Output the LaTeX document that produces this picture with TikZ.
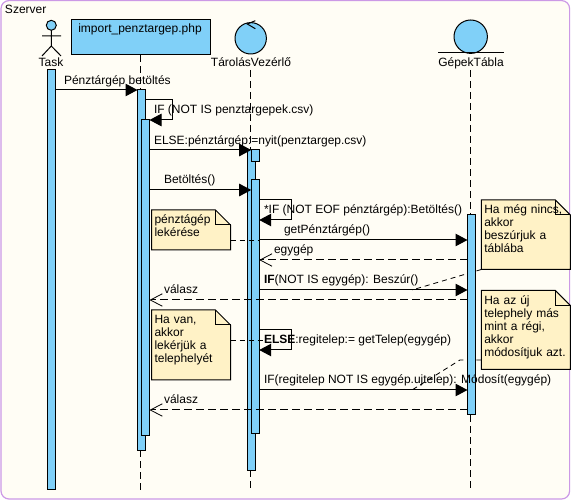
\documentclass[tikz,border=0pt]{standalone}
\usepackage{fontspec}
\setmainfont{Liberation Sans}
\usetikzlibrary{arrows.meta}
\definecolor{framecol}{HTML}{CC99E6}
\definecolor{bgcol}{HTML}{FFFDF5}
\definecolor{bluecol}{HTML}{80D0F8}
\definecolor{notecol}{HTML}{FFF2C6}
\pgfdeclarelayer{backlayer}
\pgfdeclarelayer{linklayer}
\pgfsetlayers{backlayer,linklayer,main}
\tikzset{
  lbl/.style={inner sep=0pt,outer sep=0pt,anchor=base west,font=\fontsize{12}{13}\selectfont},
  lblc/.style={lbl,anchor=base},
  bar/.style={draw=black,fill=bluecol,line width=1pt,inner sep=0pt,outer sep=0pt,minimum width=8pt},
  lifeline/.style={line width=1pt,dash pattern=on 7pt off 4pt},
  msg/.style={line width=1pt,-{Triangle[length=12pt,width=12.5pt]}},
  ret/.style={line width=1pt,dash pattern=on 8pt off 4pt,-{Straight Barb[length=12pt,width=12.5pt,line width=.8pt]}},
  notelink/.style={line width=.8pt,dash pattern=on 5pt off 4pt},
  notepoly/.style={draw=black,fill=notecol,line width=1pt},
  notetext/.style={inner xsep=3pt,inner ysep=0pt,outer sep=0pt,anchor=north west,align=left,font=\fontsize{12}{13}\selectfont},
}
% #1 name, #2 x centre, #3 top, #4 bottom
\newcommand{\actbar}[4]{\node[bar,minimum height={(#4-#3)*1pt}] (#1) at (#2,{(#3+#4)/2}) {};}
% #1 name, #2 x1, #3 y1, #4 x2, #5 y2, #6 text
\newcommand{\notebox}[6]{%
  \draw[notepoly] (#2,#3) -- ({#4-15},#3) -- (#4,{#3+15}) -- (#4,#5) -- (#2,#5) -- cycle;
  \draw[line width=1pt] ({#4-15},#3) -- ({#4-15},{#3+15}) -- (#4,{#3+15});
  \node[notetext,text width={(#4-#2-6)*1pt}] (#1) at (#2,#3) {\rule{0pt}{14pt}#6};}
\begin{document}
\begin{tikzpicture}[x=1pt,y=-1pt]
\useasboundingbox (0,0) rectangle (573,502);
\begin{pgfonlayer}{backlayer}
  \fill[white] (0,0) rectangle (573,502);
  \draw[draw=framecol,fill=bgcol,line width=1.2pt,rounded corners=8pt] (1,0.6) rectangle (569.6,499);
\end{pgfonlayer}
\node[lbl] (frametitle) at (5,14) {Szerver};

% lifeline heads
\node[draw=black,fill=bluecol,line width=1pt,minimum width=139pt,minimum height=35pt,inner sep=0pt,outer sep=0pt] (imp) at (140.5,37.5) {};
\node[draw=black,fill=bluecol,line width=1pt,circle,minimum size=31.4pt,inner sep=0pt,outer sep=0pt] (ctl) at (250.7,38.3) {};
\node[draw=black,fill=bluecol,line width=1pt,circle,minimum size=33.4pt,inner sep=0pt,outer sep=0pt] (tbl) at (470.7,36.7) {};
\node[draw=black,fill=bluecol,line width=1pt,circle,minimum size=10pt,inner sep=0pt,outer sep=0pt] (head) at (51.3,25.3) {};
\coordinate (legl) at (42,56);
\coordinate (legr) at (61,56);
\coordinate (hip) at (51.3,46);
\coordinate (arml) at (42,36);
\coordinate (armr) at (61,36);
\draw[line width=1pt] (head) -- (hip) (arml) -- (armr) (legl) -- (hip) -- (legr);
\coordinate (ctlA) at (255.3,20.7);
\coordinate (ctlB) at (247.3,24);
\coordinate (ctlC) at (255.3,28.7);
\draw[line width=1pt] (ctlA) -- (ctlB) -- (ctlC);
\coordinate (tblL) at (438,53);
\coordinate (tblR) at (504,53);
\draw[line width=1pt] (tblL) -- (tblR);

% activation bars
\actbar{aTask}{51.5}{70}{489}
\actbar{aImpA}{141.5}{90}{450}
\actbar{aImpB}{145.5}{120}{435}
\actbar{aCtlA}{251.2}{150}{470}
\actbar{aCtlS}{255.2}{150}{162}
\actbar{aCtlB}{255.2}{180}{433}
\actbar{aTbl}{471.5}{215}{415}

% lifeline ends
\coordinate (endImp) at (140.5,490);
\coordinate (endCtl) at (250.5,490);
\coordinate (endTbl) at (470.5,490);
\coordinate (startCtl) at (250.5,70);
\coordinate (startTbl) at (470.5,70);

% rows
\foreach \n/\v in {m1/90,s1a/100,s1b/120,m2/150,m3/190,s2a/200,s2b/220,m4/240,m5/260,m6/290,m7/300,s3a/330,s3b/350,m8/390,m9/410}{\coordinate (\n) at (0,\v);}
\coordinate (rA) at (172,0);
\coordinate (rB) at (291.7,0);

% notes
\notebox{noteA}{151.5}{210}{230.5}{250}{pénztágép\\lekérése}
\notebox{noteB}{151.5}{310}{230.5}{380}{Ha van,\\akkor\\lekérjük a\\telephelyét}
\notebox{noteC}{481.3}{200}{570.3}{269.5}{Ha még nincs,\\akkor\\beszúrjuk a\\táblába}
\notebox{noteD}{481.3}{290.5}{570.3}{369.5}{Ha az új\\telephely más\\mint a régi,\\akkor\\módosítjuk azt.}

\coordinate (cA) at (230.5,240);
\coordinate (cB) at (230.5,340);
\coordinate (cBend) at (264,340);
\coordinate (cC) at (481.3,269.5);
\coordinate (cCend) at (412,290);
\coordinate (cD) at (481.3,360);
\coordinate (cDk) at (460,360);
\coordinate (cDend) at (412,390);

\begin{pgfonlayer}{linklayer}
  \draw[lifeline] (imp.south) -- (aImpA.north-|imp.south);
  \draw[lifeline] (aImpA.south-|imp.south) -- (endImp);
  \draw[lifeline] (startCtl) -- (aCtlA.north-|startCtl);
  \draw[lifeline] (aCtlA.south-|startCtl) -- (endCtl);
  \draw[lifeline] (startTbl) -- (aTbl.north-|startTbl);
  \draw[lifeline] (aTbl.south-|startTbl) -- (endTbl);

  \draw[msg] (aTask.east|-m1) -- (aImpA.west|-m1);
  \draw[msg] (aImpA.east|-s1a) -- (rA|-s1a) -- (rA|-s1b) -- (aImpB.east|-s1b);
  \draw[msg] (aCtlB.east|-s2a) -- (rB|-s2a) -- (rB|-s2b) -- (aCtlB.east|-s2b);
  \draw[msg] (aCtlB.east|-m4) -- (aTbl.west|-m4);
  \draw[ret] (aTbl.west|-m5) -- (aCtlB.east|-m5);
  \draw[msg] (aCtlB.east|-m6) -- (aTbl.west|-m6);
  \draw[msg] (aCtlB.east|-s3a) -- (rB|-s3a) -- (rB|-s3b) -- (aCtlB.east|-s3b);
  \draw[msg] (aCtlB.east|-m8) -- (aTbl.west|-m8);

  \draw[notelink] (cC) -- (cCend);
  \draw[notelink] (cD) -- (cDk) -- (cDend);
\end{pgfonlayer}

% connectors that run over the bars
\draw[msg] (aImpB.east|-m2) -- (aCtlS.west|-m2);
\draw[msg] (aImpB.east|-m3) -- (aCtlB.west|-m3);
\draw[ret] (aTbl.west|-m7) -- (aImpB.east|-m7);
\draw[ret] (aTbl.west|-m9) -- (aImpB.east|-m9);
\draw[notelink] (cA) -- (aCtlB.east|-cA);
\draw[notelink] (cB) -- (cBend);

% labels
\node[lblc] (tTask) at (51,66.5) {Task};
\node[lblc] (tImp) at (140,32.5) {import\_penztargep.php};
\node[lblc] (tCtl) at (251,66.5) {TárolásVezérlő};
\node[lblc] (tTbl) at (471,66.5) {GépekTábla};
\node[lbl] (l1) at (64,84.5) {Pénztárgép betöltés};
\node[lbl] (l2) at (154,114) {IF (NOT IS penztargepek.csv)};
\node[lbl] (l3) at (154,144.5) {ELSE:pénztárgép:=nyit(penztargep.csv)};
\node[lbl] (l4) at (164,184) {Betöltés()};
\node[lbl] (l5) at (264,214) {*IF (NOT EOF pénztárgép):Betöltés()};
\node[lbl] (l6) at (284,234) {getPénztárgép()};
\node[lbl] (l7) at (274,254) {egygép};
\node[lbl] (l8) at (264,284) {\textbf{IF}(NOT IS egygép): Beszúr()};
\node[lbl] (l9) at (164,294) {válasz};
\node[lbl] (l10) at (264,344) {\textbf{ELSE}:regitelep:= getTelep(egygép)};
\node[lbl] (l11) at (264,384) {IF(regitelep NOT IS egygép.ujtelep): Módosít(egygép)};
\node[lbl] (l12) at (164,404) {válasz};
\end{tikzpicture}
\end{document}
